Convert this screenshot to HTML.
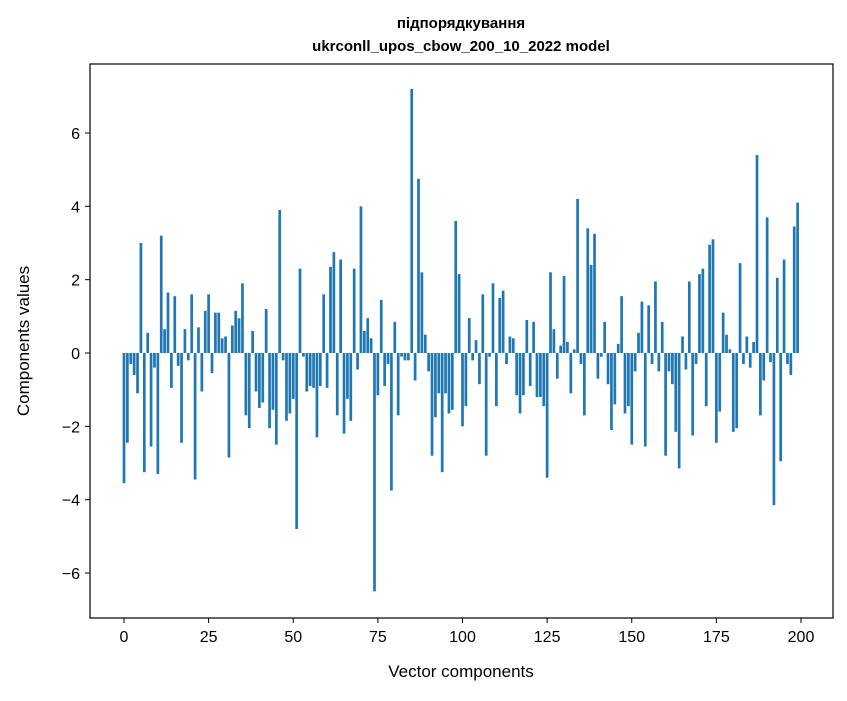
<!DOCTYPE html>
<html><head><meta charset="utf-8"><style>
body{margin:0;background:#fff;width:847px;height:696px;overflow:hidden}
svg text{font-family:"Liberation Sans","DejaVu Sans",sans-serif;fill:#000}
</style></head><body>
<svg id="chart" width="847" height="696" xmlns="http://www.w3.org/2000/svg">
<text x="461" y="28" font-size="15" font-weight="bold" text-anchor="middle">підпорядкування</text>
<text x="461" y="51" font-size="15" font-weight="bold" text-anchor="middle">ukrconll_upos_cbow_200_10_2022 model</text>
<g id="bars"></g>
<rect x="90" y="64" width="743" height="554" fill="none" stroke="#000" stroke-width="1.2"/>
<g id="axes"></g>
<text x="461" y="677" font-size="17" text-anchor="middle">Vector components</text>
<text transform="translate(29,341) rotate(-90)" font-size="17" text-anchor="middle">Components values</text>
</svg>
<script>
const values = [-3.55,-2.45,-0.3,-0.6,-1.1,3.0,-3.25,0.55,-2.55,-0.4,-3.3,3.2,0.65,1.65,-0.95,1.55,-0.35,-2.45,0.65,-0.2,
1.6,-3.45,0.7,-1.05,1.15,1.6,-0.55,1.1,1.1,0.4,0.45,-2.85,0.75,1.15,0.95,1.9,-1.7,-2.05,0.6,-1.05,
-1.5,-1.35,1.2,-2.05,-1.55,-2.5,3.9,-0.2,-1.85,-1.65,-1.25,-4.8,2.3,-0.1,-1.05,-0.9,-0.95,-2.3,-0.9,1.6,
-0.95,2.35,2.75,-1.7,2.55,-2.2,-1.25,-1.85,2.3,-0.45,4.0,0.6,0.95,0.4,-6.5,-1.15,1.45,-0.9,-0.3,-3.75,
0.85,-1.7,-0.1,-0.2,-0.2,7.2,-0.75,4.75,2.2,0.5,-0.5,-2.8,-1.75,-1.1,-3.25,-1.1,-1.65,-1.55,3.6,2.15,
-2.0,-1.45,0.95,-0.2,0.35,-0.85,1.6,-2.8,-0.1,1.9,-1.45,1.5,1.7,-0.3,0.45,0.4,-1.15,-1.65,-1.15,0.9,
-0.9,0.85,-1.2,-1.2,-1.45,-3.4,2.2,0.65,-0.7,0.2,2.1,0.3,-1.1,0.1,4.2,-0.3,-1.7,3.4,2.4,3.25,
-0.7,-0.1,0.85,-0.85,-2.1,-1.4,0.25,1.55,-1.65,-1.45,-2.5,-0.5,0.55,1.4,-2.55,1.3,-0.3,1.95,-0.5,0.85,
-2.8,-0.5,-0.85,-2.15,-3.15,0.45,-0.45,1.95,-2.25,-0.3,2.15,2.3,-1.45,2.95,3.1,-2.45,-1.6,1.1,0.5,0.1,
-2.15,-2.05,2.45,-0.3,0.45,-0.4,0.3,5.4,-1.7,-0.75,3.7,-0.25,-4.15,2.05,-2.95,2.55,-0.3,-0.6,3.45,4.1];
const xTicks = [0,25,50,75,100,125,150,175,200];
const yTicks = [-6,-4,-2,0,2,4,6];
const NS="http://www.w3.org/2000/svg";
const xs = v => 124 + v*3.385;
const ys = v => 353 - v*36.67;
const bars = document.getElementById('bars');
values.forEach((v,i)=>{
  const r=document.createElementNS(NS,'rect');
  
  
  const y0=ys(0), y1=ys(v);
  r.setAttribute('x',xs(i-0.4));
  r.setAttribute('width',3.385*0.8);
  r.setAttribute('y',Math.min(y0,y1));
  r.setAttribute('height',Math.abs(y1-y0));
  r.setAttribute('fill','#1f77b4');
  bars.appendChild(r);
});
const axes=document.getElementById('axes');
xTicks.forEach(t=>{
  const l=document.createElementNS(NS,'line');
  
  
  l.setAttribute('x1',xs(t));l.setAttribute('x2',xs(t));
  l.setAttribute('y1',618);l.setAttribute('y2',623);l.setAttribute('stroke','#000');
  axes.appendChild(l);
  const tx=document.createElementNS(NS,'text');
  
  
  tx.setAttribute('x',xs(t));tx.setAttribute('y',642);
  tx.setAttribute('font-size','16');tx.setAttribute('text-anchor','middle');
  tx.textContent=t;axes.appendChild(tx);
});
yTicks.forEach(t=>{
  const l=document.createElementNS(NS,'line');
  
  
  l.setAttribute('x1',85);l.setAttribute('x2',90);
  l.setAttribute('y1',ys(t));l.setAttribute('y2',ys(t));l.setAttribute('stroke','#000');
  axes.appendChild(l);
  const tx=document.createElementNS(NS,'text');
  
  
  tx.setAttribute('x',80);tx.setAttribute('y',ys(t)+6);
  tx.setAttribute('font-size','16');tx.setAttribute('text-anchor','end');
  tx.textContent=(t<0?'\u2212'+(-t):t);axes.appendChild(tx);
});
</script>
</body></html>
